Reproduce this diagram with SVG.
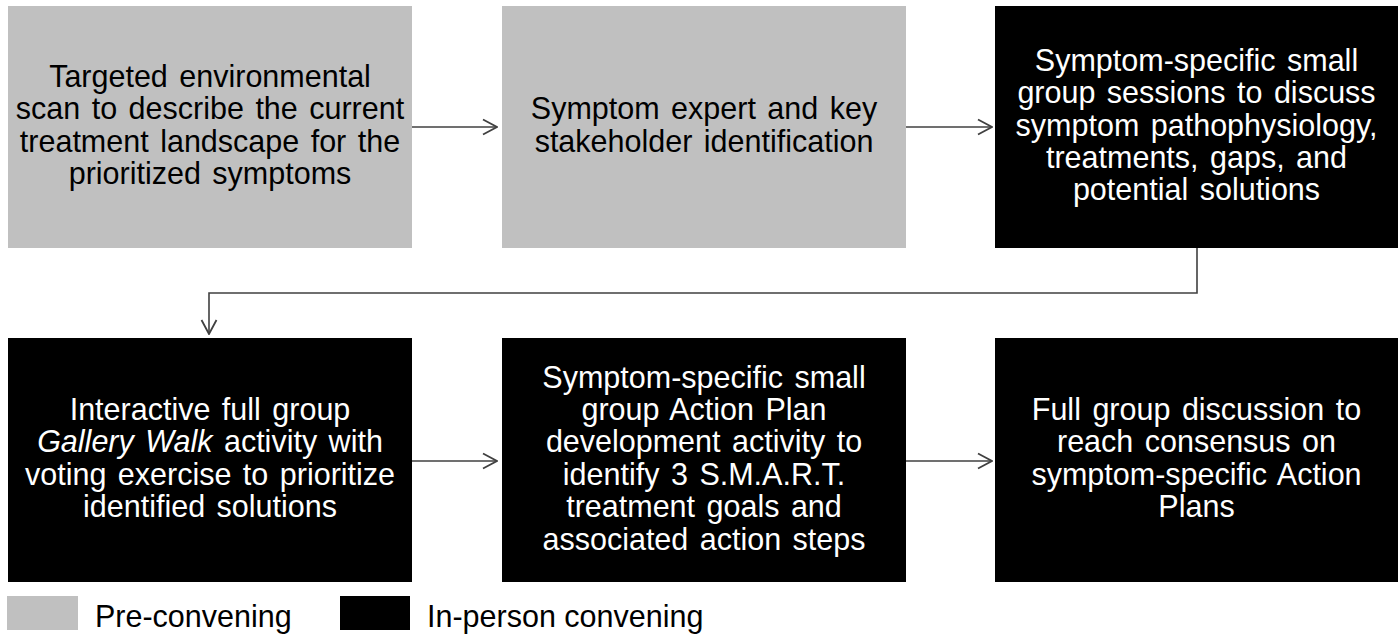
<svg xmlns="http://www.w3.org/2000/svg" width="1400" height="635" viewBox="0 0 1400 635">
<style>
.pre{fill:#c0c0c0}
.inp{fill:#000000}
.t{font-family:"Liberation Sans",Arial,sans-serif;font-size:30.5px;word-spacing:3px;text-anchor:middle}
.td{fill:#000000}
.tw{fill:#ffffff}
.lg{font-family:"Liberation Sans",Arial,sans-serif;font-size:30.5px;fill:#000000}
.c{fill:none;stroke:#404040;stroke-width:1.6}
</style>
<defs>
<marker id="ah" viewBox="0 0 16 18" refX="15" refY="9" markerWidth="16" markerHeight="18" markerUnits="userSpaceOnUse" orient="auto">
<path d="M1,1.5 L15,9 L1,16.5" fill="none" stroke="#404040" stroke-width="1.8"/>
</marker>
</defs>
<rect width="1400" height="635" fill="#ffffff"/>
<g id="connectors">
<line class="c" x1="412" y1="127" x2="497" y2="127" marker-end="url(#ah)"/>
<line class="c" x1="906" y1="127" x2="992" y2="127" marker-end="url(#ah)"/>
<polyline class="c" points="1197,248 1197,293 209,293 209,334" marker-end="url(#ah)"/>
<line class="c" x1="412" y1="461" x2="497" y2="461" marker-end="url(#ah)"/>
<line class="c" x1="906" y1="461" x2="992" y2="461" marker-end="url(#ah)"/>
</g>
<g id="node1">
<rect class="pre" x="8" y="6" width="404" height="242"/>
<text class="t td"><tspan x="210" y="87">Targeted environmental</tspan><tspan x="210" y="119.4">scan to describe the current</tspan><tspan x="210" y="151.8">treatment landscape for the</tspan><tspan x="210" y="184.2">prioritized symptoms</tspan></text>
</g>
<g id="node2">
<rect class="pre" x="502" y="6" width="404" height="242"/>
<text class="t td"><tspan x="704" y="119.4">Symptom expert and key</tspan><tspan x="704" y="151.8">stakeholder identification</tspan></text>
</g>
<g id="node3">
<rect class="inp" x="995" y="6" width="403" height="242"/>
<text class="t tw"><tspan x="1196.5" y="70.8">Symptom-specific small</tspan><tspan x="1196.5" y="103.2">group sessions to discuss</tspan><tspan x="1196.5" y="135.6">symptom pathophysiology,</tspan><tspan x="1196.5" y="168">treatments, gaps, and</tspan><tspan x="1196.5" y="200.4">potential solutions</tspan></text>
</g>
<g id="node4">
<rect class="inp" x="8" y="338" width="404" height="244"/>
<text class="t tw"><tspan x="210" y="420">Interactive full group</tspan><tspan x="210" y="452.4"><tspan font-style="italic">Gallery Walk</tspan> activity with</tspan><tspan x="210" y="484.8">voting exercise to prioritize</tspan><tspan x="210" y="517.2">identified solutions</tspan></text>
</g>
<g id="node5">
<rect class="inp" x="502" y="338" width="404" height="244"/>
<text class="t tw"><tspan x="704" y="387.6">Symptom-specific small</tspan><tspan x="704" y="420">group Action Plan</tspan><tspan x="704" y="452.4">development activity to</tspan><tspan x="704" y="484.8">identify 3 S.M.A.R.T.</tspan><tspan x="704" y="517.2">treatment goals and</tspan><tspan x="704" y="549.6">associated action steps</tspan></text>
</g>
<g id="node6">
<rect class="inp" x="995" y="338" width="403" height="244"/>
<text class="t tw"><tspan x="1196.5" y="420">Full group discussion to</tspan><tspan x="1196.5" y="452.4">reach consensus on</tspan><tspan x="1196.5" y="484.8">symptom-specific Action</tspan><tspan x="1196.5" y="517.2">Plans</tspan></text>
</g>
<g id="legend">
<rect class="pre" x="7" y="596" width="71" height="34"/>
<text class="lg" x="95" y="627">Pre-convening</text>
<rect class="inp" x="340" y="596" width="70" height="34"/>
<text class="lg" x="427" y="627">In-person convening</text>
</g>
</svg>
